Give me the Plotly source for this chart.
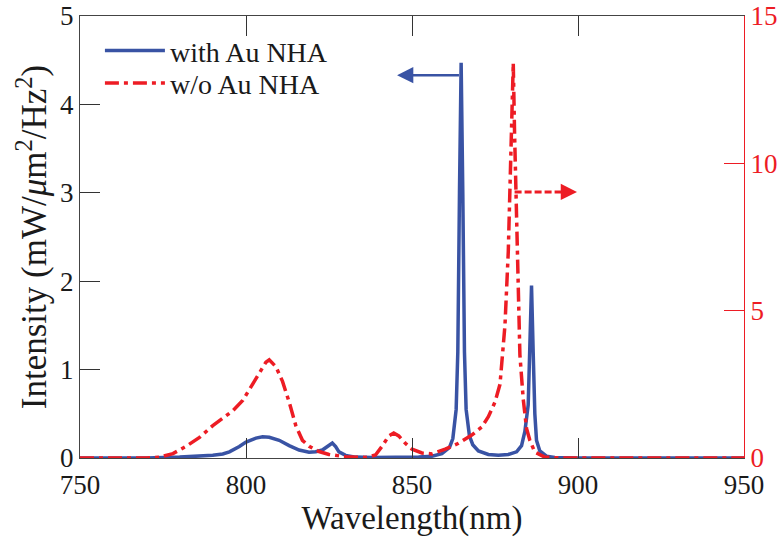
import plotly.graph_objects as go

# Wavelength (nm) and intensity for the "with Au NHA" sample (left axis)
wl_with = [750, 770, 780, 785, 790, 793, 795, 798, 800, 803, 805, 807, 810, 813, 816, 819,
           821, 823, 825, 826, 827, 828, 830, 833, 838, 845, 852, 856, 859, 861.3, 862.3, 863.3,
           863.8, 864.3, 864.8, 865.3, 865.8, 866.3, 867.3, 868.3, 870, 873, 876, 879, 881.5, 883,
           884, 885, 885.5, 886, 886.5, 887, 887.5, 888.5, 890.5, 893, 900, 950]
int_with = [0, 0, 0.01, 0.015, 0.03, 0.045, 0.07, 0.13, 0.18, 0.225, 0.24, 0.235, 0.2, 0.14, 0.09,
            0.065, 0.07, 0.09, 0.14, 0.17, 0.13, 0.07, 0.03, 0.01, 0.005, 0.005, 0.01, 0.02,
            0.05, 0.12, 0.22, 0.55, 1.2, 3.0, 4.47, 3.0, 1.2, 0.55, 0.25, 0.15, 0.08, 0.04,
            0.03, 0.04, 0.07, 0.14, 0.3, 0.6, 1.2, 1.95, 1.2, 0.5, 0.2, 0.08, 0.02, 0.005, 0, 0]

# Wavelength (nm) and intensity for the "w/o Au NHA" sample (right axis)
wl_wo = [750, 770, 774, 778, 782, 786, 790, 793, 796, 799, 802, 804, 806, 807, 809, 811, 813,
         815, 817, 819, 822, 825, 830, 836, 839, 841, 843, 844.5, 846, 848, 850, 853, 856,
         860, 864, 868, 871, 873, 875, 876.5, 878, 879, 879.7, 880.2, 880.5, 880.9, 881.3,
         881.8, 882.5, 883.5, 884.5, 885.5, 887, 890, 895, 950]
int_wo = [0, 0, 0.03, 0.15, 0.4, 0.7, 1.1, 1.35, 1.6, 1.95, 2.5, 2.9, 3.25, 3.33, 3.1, 2.6,
          1.9, 1.1, 0.6, 0.4, 0.22, 0.12, 0.04, 0.02, 0.1, 0.4, 0.75, 0.85, 0.75, 0.5, 0.3,
          0.17, 0.14, 0.3, 0.5, 0.78, 1.05, 1.4, 1.9, 2.5, 4.5, 7, 10, 12.5, 13.4, 11, 9, 6,
          3.5, 2.0, 1.0, 0.6, 0.2, 0.03, 0, 0]

x_ticks = [750, 800, 850, 900, 950]
y_ticks = [0, 1, 2, 3, 4, 5]
y2_ticks = [0, 5, 10, 15]

BLUE = "#3953a4"
RED = "#ed1c24"
FONT = "Liberation Serif"

fig = go.Figure()
fig.add_trace(go.Scatter(x=wl_with, y=int_with, mode="lines", name="with Au NHA", legend="legend",
                         line=dict(color=BLUE, width=3.5)))
fig.add_trace(go.Scatter(x=wl_wo, y=int_wo, mode="lines", name="w/o Au NHA", yaxis="y2",
                         legend="legend2",
                         line=dict(color=RED, width=3.5, dash="14px,5px,4px,5px")))

# arrows
fig.add_annotation(x=845.5, y=4.33, ax=864.6, ay=4.33, xref="x", yref="y", axref="x", ayref="y",
                   showarrow=True, arrowhead=2, arrowsize=1.3, arrowwidth=2.5, arrowcolor=BLUE, text="")
fig.add_shape(type="line", x0=880.9, x1=897.5, y0=9.03, y1=9.03, xref="x", yref="y2",
              line=dict(color=RED, width=3, dash="7px,3px"))
fig.add_annotation(x=899.7, y=9.03, ax=896.5, ay=9.03, xref="x", yref="y2", axref="x", ayref="y2",
                   showarrow=True, arrowhead=2, arrowsize=1.3, arrowwidth=2.5, arrowcolor=RED, text="")

leg_common = dict(x=0.03, xanchor="left", yanchor="middle", bgcolor="rgba(0,0,0,0)",
                  font=dict(size=28, family=FONT), itemwidth=60)

fig.update_layout(
    width=784, height=544,
    margin=dict(l=80, r=40, t=16, b=86, autoexpand=False),
    paper_bgcolor="white", plot_bgcolor="white",
    font=dict(family=FONT, size=27, color="#1a1a1a"),
    showlegend=True,
    legend=dict(y=0.921, **leg_common),
    legend2=dict(y=0.848, **leg_common),
    xaxis=dict(range=[750, 950], tickvals=x_ticks, ticks="inside", ticklen=20, tickwidth=1,
               tickcolor="#333", showline=True, linecolor="#444", linewidth=1, mirror="ticks",
               showgrid=False, zeroline=False, ticklabelstandoff=3,
               title=dict(text="Wavelength(nm)", font=dict(size=33), standoff=2)),
    yaxis=dict(range=[0, 5], tickvals=y_ticks, ticks="inside", ticklen=20, tickwidth=1,
               tickcolor="#333", showline=True, linecolor="#444", linewidth=1,
               showgrid=False, zeroline=False,
               title=dict(text="Intensity (mW/<i>μ</i>m<sup>2</sup>/Hz<sup>2</sup>)",
                          font=dict(size=35), standoff=2)),
    yaxis2=dict(range=[0, 15], tickvals=y2_ticks, overlaying="y", side="right", ticks="inside",
                ticklen=20, tickwidth=1, tickcolor=RED, showline=True, linecolor=RED, linewidth=1,
                showgrid=False, zeroline=False, tickfont=dict(color=RED, size=27)),
)

fig.write_html("out.html")
